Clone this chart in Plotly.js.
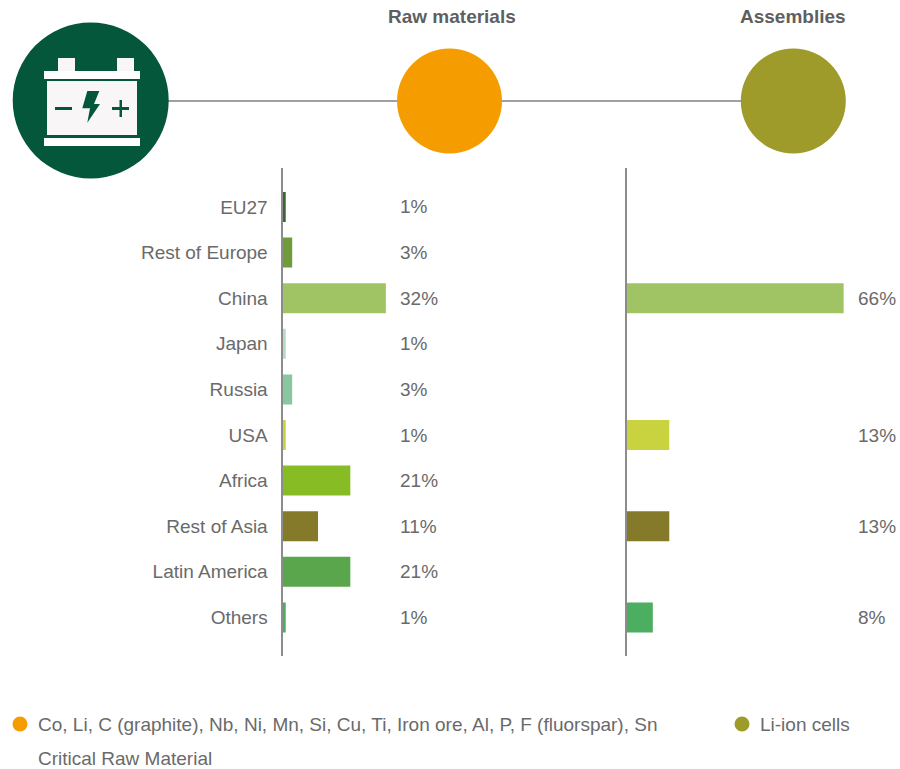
<!DOCTYPE html>
<html><head><meta charset="utf-8">
<script src="https://cdn.plot.ly/plotly-3.0.1.min.js"></script>
<style>html,body{margin:0;padding:0;background:#fff}#c{width:900px;height:769px}</style>
</head><body><div id="c"></div>
<script>
const regions = ["EU27","Rest of Europe","China","Japan","Russia","USA","Africa","Rest of Asia","Latin America","Others"];
const rawMaterials = [1,3,32,1,3,1,21,11,21,1];
const assemblies = [null,null,66,null,null,13,null,13,null,8];
const regionColors = ["#3C6534","#6F9B3A","#A0C464","#B5DBC6","#88C7A0","#C9D340","#87BC25","#857A2A","#5AA64D","#4CAE60"];
const stageTitles = ["Raw materials","Assemblies"];
const legendRaw = ["Co, Li, C (graphite), Nb, Ni, Mn, Si, Cu, Ti, Iron ore, Al, P, F (fluorspar), Sn","Critical Raw Material"];
const legendAssemblies = ["Li-ion cells"];

const W=900,H=769;
const X=p=>p/W, Y=p=>1-p/H;
const FONT='"Liberation Sans", Arial, sans-serif';
const GREY='#6a6a6a', LINE='#8c8c8c';
const DARK='#04573B', ICON='#F8F6F7', ORANGE='#F59D00', OLIVE='#9E9B2B';

function circle(cx,cy,r,color){return {type:'circle',xref:'paper',yref:'paper',x0:X(cx-r),x1:X(cx+r),y0:Y(cy+r),y1:Y(cy-r),fillcolor:color,line:{width:0},layer:'above'};}
function rect(x0,y0,x1,y1,color){return {type:'rect',xref:'paper',yref:'paper',x0:X(x0),x1:X(x1),y0:Y(y1),y1:Y(y0),fillcolor:color,line:{width:0},layer:'above'};}
function poly(pts,color){return {type:'path',xref:'paper',yref:'paper',path:'M'+pts.map(p=>X(p[0])+' '+Y(p[1])).join('L')+'Z',fillcolor:color,line:{width:0},layer:'above'};}

const shapes=[
 {type:'line',xref:'paper',yref:'paper',x0:X(168),x1:X(742),y0:Y(101),y1:Y(101),line:{color:'#808080',width:1.5},layer:'above'},
 circle(90.7,100.5,78,DARK),
 circle(449.5,101,52.5,ORANGE),
 circle(793.3,101,52.5,OLIVE),
 circle(20,724,7.5,ORANGE),
 circle(742,724,7.5,OLIVE),
 rect(58,58,75,72,ICON),rect(117,58,134,72,ICON),
 rect(44,71,140,79,'#FFFFFF'),
 rect(47,81,137,135,ICON),
 rect(44,138,140,146,'#FFFFFF'),
 rect(55,107,72,110,DARK),
 rect(112,107,129,110,DARK),
 rect(119.5,100,122,117,DARK),
 poly([[87.3,91],[99.3,91],[94,104],[100,104],[87.3,122.7],[90,108.3],[82.3,108.3]],DARK)
];

const annotations=[];
const textFont={family:FONT,size:19,color:GREY};
function label(x,y,text,opt){annotations.push(Object.assign({xref:'paper',yref:'paper',x:X(x),y:Y(y),text:text,showarrow:false,xanchor:'left',yanchor:'middle',font:textFont},opt||{}));}
const titleFont={family:FONT,size:19,color:'#5f5f5f'};
label(452,17,'<b>'+stageTitles[0]+'</b>',{xanchor:'center',font:titleFont});
label(793,17,'<b>'+stageTitles[1]+'</b>',{xanchor:'center',font:titleFont});
rawMaterials.forEach((v,i)=>{annotations.push({xref:'paper',yref:'y',x:X(398),y:i,text:v+'%',showarrow:false,xanchor:'left',yanchor:'middle',font:textFont});});
assemblies.forEach((v,i)=>{if(v!==null)annotations.push({xref:'paper',yref:'y',x:X(856),y:i,text:v+'%',showarrow:false,xanchor:'left',yanchor:'middle',font:textFont});});
label(36,724,legendRaw[0]);
label(36,758.5,legendRaw[1]);
label(758,724,legendAssemblies[0]);

const traces=[
 {type:'bar',orientation:'h',y:regions.map((_,i)=>i),x:rawMaterials,xaxis:'x',yaxis:'y',width:0.658,marker:{color:regionColors,line:{width:0}},hoverinfo:'skip'},
 {type:'bar',orientation:'h',y:regions.map((_,i)=>i),x:assemblies,xaxis:'x2',yaxis:'y2',width:0.658,marker:{color:regionColors,line:{width:0}},hoverinfo:'skip'}
];
const yr=[9.846,-0.855];
const yd=[Y(656),Y(168)];
const layout={
 width:W,height:H,margin:{l:0,r:0,t:0,b:0,pad:0},paper_bgcolor:'#fff',plot_bgcolor:'rgba(0,0,0,0)',showlegend:false,
 xaxis:{domain:[X(282.5),X(600)],range:[0,317.5/3.23],visible:false,fixedrange:true},
 xaxis2:{domain:[X(626.5),1],range:[0,273.5/3.29],visible:false,fixedrange:true},
 yaxis:{domain:yd,range:yr,anchor:'x',tickmode:'array',tickvals:regions.map((_,i)=>i),ticktext:regions,ticks:'outside',ticklen:9.5,tickcolor:'rgba(0,0,0,0)',showgrid:false,zeroline:false,showline:true,linecolor:LINE,linewidth:1.5,tickfont:textFont,fixedrange:true},
 yaxis2:{domain:yd,range:yr,anchor:'x2',showticklabels:false,ticks:'',showgrid:false,zeroline:false,showline:true,linecolor:LINE,linewidth:1.5,fixedrange:true},
 shapes:shapes,annotations:annotations
};
Plotly.newPlot('c',traces,layout,{displayModeBar:false,staticPlot:true});
</script></body></html>
